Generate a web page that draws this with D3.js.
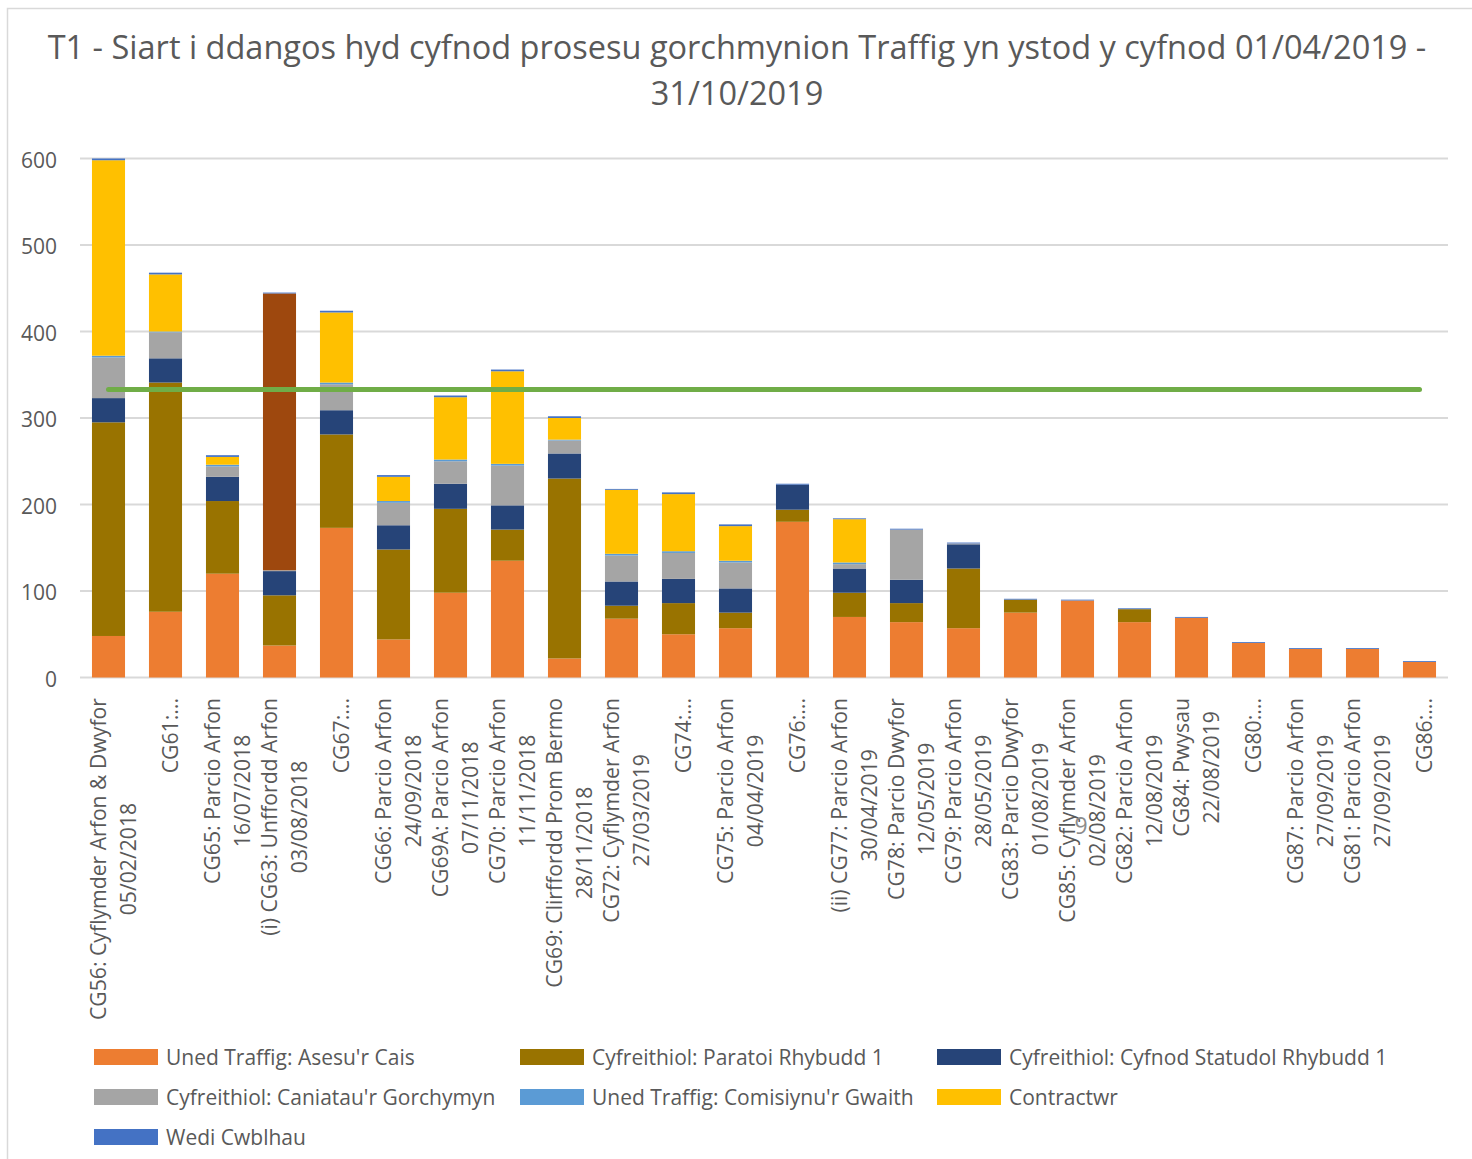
<!DOCTYPE html>
<html><head><meta charset="utf-8">
<script src="https://cdn.jsdelivr.net/npm/d3@7"></script>
<style>body{margin:0;background:#fff;}svg{display:block;}</style>
</head><body>
<svg id="chart" width="1472" height="1159"></svg>
<script>
const categories = [
  "CG56: Cyflymder Arfon & Dwyfor\n05/02/2018",
  "CG61:...",
  "CG65: Parcio Arfon\n16/07/2018",
  "(i) CG63: Unffordd Arfon\n03/08/2018",
  "CG67:...",
  "CG66: Parcio Arfon\n24/09/2018",
  "CG69A: Parcio Arfon\n07/11/2018",
  "CG70: Parcio Arfon\n11/11/2018",
  "CG69: Clirffordd Prom Bermo\n28/11/2018",
  "CG72: Cyflymder Arfon\n27/03/2019",
  "CG74:...",
  "CG75: Parcio Arfon\n04/04/2019",
  "CG76:...",
  "(ii) CG77: Parcio Arfon\n30/04/2019",
  "CG78: Parcio Dwyfor\n12/05/2019",
  "CG79: Parcio Arfon\n28/05/2019",
  "CG83: Parcio Dwyfor\n01/08/2019",
  "CG85: Cyflymder Arfon\n02/08/2019",
  "CG82: Parcio Arfon\n12/08/2019",
  "CG84: Pwysau\n22/08/2019",
  "CG80:...",
  "CG87: Parcio Arfon\n27/09/2019",
  "CG81: Parcio Arfon\n27/09/2019",
  "CG86:..."
];
const seriesNames = [
  "Uned Traffig: Asesu'r Cais",
  "Cyfreithiol: Paratoi Rhybudd 1",
  "Cyfreithiol: Cyfnod Statudol Rhybudd 1",
  "Cyfreithiol: Caniatau'r Gorchymyn",
  "Uned Traffig: Comisiynu'r Gwaith",
  "Contractwr",
  "Wedi Cwblhau"
];
const asesu      = [48,76,120,37,173,44,98,135,22,68,50,57,180,70,64,57,75,89,64,69,40,33,33,18];
const paratoi    = [247,265,84,58,108,104,97,36,208,15,36,18,14,28,22,69,15,0,15,0,0,0,0,0];
const statudol   = [28,28,28,28,28,28,29,28,29,28,28,28,29,28,27,28,0,0,0,0,0,0,0,0];
const caniatau   = [47,30,12,1,30,26,26,46,15,30,30,30,0,5,58,1,0,0,0,0,0,0,0,0];
const comisiynu  = [2,1,2,0,2,2,2,2,1,2,2,2,0,2,0,0,0,0,0,0,0,0,0,0];
const contractwr = [226,66,9,320,81,28,72,107,25,74,66,40,0,50,0,0,0,0,0,0,0,0,0,0];
const wedi       = [2,2,2,1,2,2,2,2,2,1,2,2,1,1,1,1,1,1,1,1,1,1,1,1];
const targetValue = [333];
const yTicks = [0,100,200,300,400,500,600];
const titleLines = ["T1 - Siart i ddangos hyd cyfnod prosesu gorchmynion Traffig yn ystod y cyfnod 01/04/2019 -", "31/10/2019"];
const highlightCategory = "(i) CG63: Unffordd Arfon\n03/08/2018";
const highlightSeries = "Contractwr";

const colors = ["#ED7D31","#997300","#264478","#A5A5A5","#5B9BD5","#FFC000","#4472C4"];
const highlightColor = "#9E480E";
const textColor = "#595959";
const font = "'Open Sans', sans-serif";

const seriesValues = [asesu, paratoi, statudol, caniatau, comisiynu, contractwr, wedi];
const rows = categories.map((c, i) => {
  const r = {cat: c};
  seriesNames.forEach((s, j) => r[s] = seriesValues[j][i]);
  return r;
});
const stacked = d3.stack().keys(seriesNames)(rows);

const svg = d3.select("#chart");
svg.append("rect").attr("x", 7.5).attr("y", 8.5).attr("width", 1500).attr("height", 1200)
  .attr("fill", "none").attr("stroke", "#d9d9d9").attr("stroke-width", 1.5);

const plotL = 80, plotR = 1448, plotT = 158.5, plotB = 677.5;
const x = d3.scaleBand().domain(categories).range([plotL, plotR]).paddingInner(0.42).paddingOuter(0.21);
const y = d3.scaleLinear().domain([0, 600]).range([plotB, plotT]);

svg.append("text").attr("font-family", font).attr("font-size", 32.5).attr("fill", textColor)
  .attr("text-anchor", "middle")
  .selectAll("tspan").data(titleLines).join("tspan")
  .attr("x", 737).attr("y", (d, i) => 59 + i * 46).text(d => d);

svg.append("g").selectAll("line").data(yTicks).join("line")
  .attr("x1", plotL).attr("x2", plotR).attr("y1", d => y(d)).attr("y2", d => y(d))
  .attr("stroke", "#d9d9d9").attr("stroke-width", 2);

const yAxis = d3.axisLeft(y).tickValues(yTicks).tickSize(0).tickPadding(0);
const yg = svg.append("g").attr("transform", `translate(57,0)`).call(yAxis);
yg.select(".domain").remove();
yg.selectAll("text").attr("font-family", font).attr("font-size", 21).attr("fill", textColor).attr("dy", "0.42em");

svg.append("g").selectAll("g").data(stacked).join("g")
  .each(function(layer, li) {
    d3.select(this).selectAll("rect").data(layer).join("rect")
      .attr("x", d => x(d.data.cat))
      .attr("width", x.bandwidth())
      .attr("y", d => y(d[1]))
      .attr("height", d => Math.max(0, y(d[0]) - y(d[1])))
      .attr("fill", d => (layer.key === highlightSeries && d.data.cat === highlightCategory) ? highlightColor : colors[li]);
  });

const line = d3.line().x(d => x(d) + x.bandwidth() / 2).y(() => y(targetValue[0]));
svg.append("path").datum([categories[0], categories[categories.length - 1]])
  .attr("d", line).attr("fill", "none").attr("stroke", "#70AD47").attr("stroke-width", 5).attr("stroke-linecap", "round");

const xg = svg.append("g");
categories.forEach(c => {
  const lines = c.split("\n");
  const cx = x(c) + x.bandwidth() / 2;
  const g = xg.append("g").attr("transform", `translate(${cx},698) rotate(-90)`);
  const texts = lines.map((l, i) => g.append("text").attr("font-family", font).attr("font-size", 21.2)
    .attr("fill", textColor).attr("text-anchor", "middle")
    .attr("y", 12 + (i - (lines.length - 1) / 2) * 30).text(l));
  const W = d3.max(texts, t => t.node().getComputedTextLength());
  texts.forEach(t => t.attr("x", -W / 2));
});

svg.append("text").attr("x", 1081).attr("y", 834).attr("font-family", font).attr("font-size", 23)
  .attr("fill", "#8c8c8c").attr("text-anchor", "middle").text("9");

const legCols = [94, 520, 937];
const lg = svg.append("g");
seriesNames.forEach((s, i) => {
  const col = i % 3, row = Math.floor(i / 3);
  const lx = legCols[col], ly = 1057 + row * 40;
  lg.append("rect").attr("x", lx).attr("y", ly - 8).attr("width", 64).attr("height", 16).attr("fill", colors[i]);
  lg.append("text").attr("x", lx + 72).attr("y", ly + 8).attr("font-family", font).attr("font-size", 21)
    .attr("fill", textColor).text(s);
});
</script>
</body></html>
